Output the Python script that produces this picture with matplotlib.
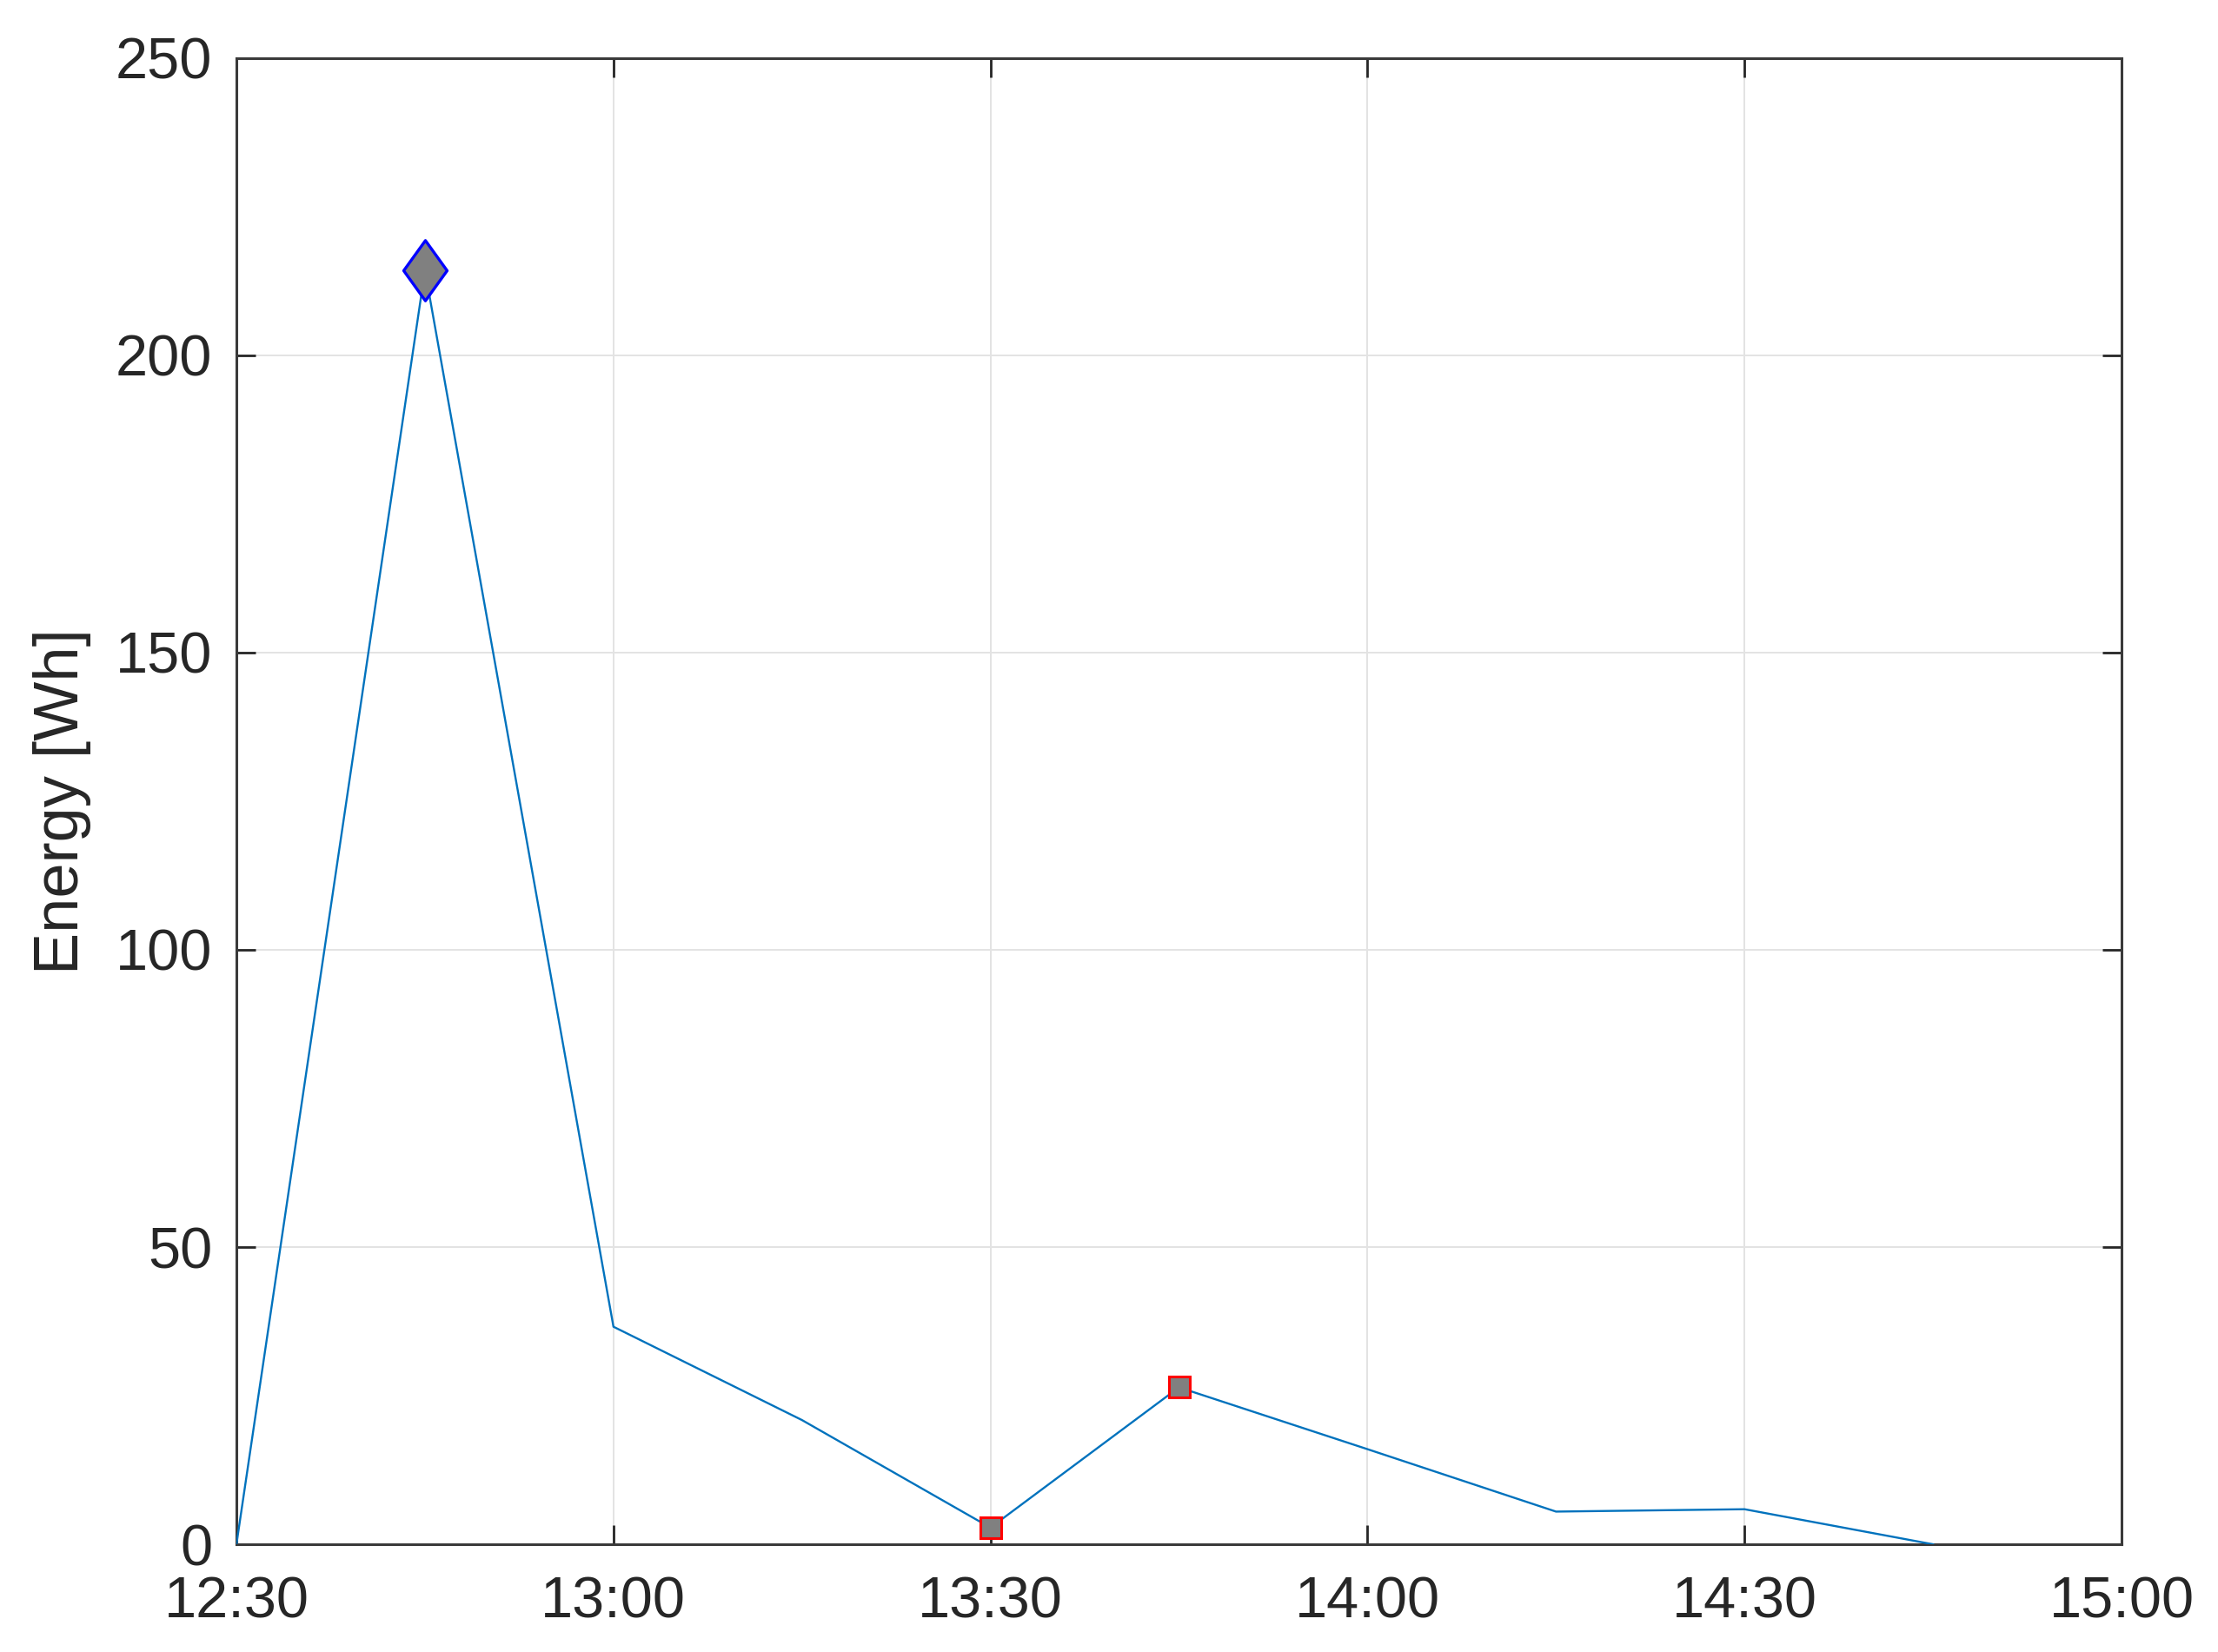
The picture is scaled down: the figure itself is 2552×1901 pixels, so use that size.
import numpy as np
import matplotlib
matplotlib.use("Agg")
import matplotlib.pyplot as plt
import matplotlib.dates as mdates
import pandas as pd
from matplotlib.path import Path

# readings every 15 min
times = ["12:30", "12:45", "13:00", "13:15", "13:30", "13:45", "14:00", "14:15", "14:30", "14:45"]
energy = [0, 214.3, 36.6, 20.9, 2.8, 26.4, 16.0, 5.5, 5.9, 0]
peak_idx = [1]          # diamond marker
low_idx = [4, 5]        # square markers

t = pd.to_datetime(["2020-01-01 " + s for s in times])
e = np.array(energy)

plt.rcParams["font.family"] = ["Liberation Sans", "DejaVu Sans"]

fig = plt.figure(figsize=(12.76, 9.505), dpi=200)
ax = fig.add_axes([0.1066, 0.0652, 0.8499, 0.8996])

ax.plot(t, e, color="#0072BD", lw=0.85, zorder=3)

# matlab style tall diamond
diamond = Path([(0, 1), (0.72, 0), (0, -1), (-0.72, 0), (0, 1)], closed=True)
ax.plot(t[peak_idx], e[peak_idx], ls="none", marker=diamond, markersize=25,
        markerfacecolor="#808080", markeredgecolor="#0000FF", markeredgewidth=1.2, zorder=4)
ax.plot(t[low_idx], e[low_idx], ls="none", marker="s", markersize=8.5,
        markerfacecolor="#808080", markeredgecolor="#FF0000", markeredgewidth=1.1, zorder=4)

ax.set_xlim(pd.Timestamp("2020-01-01 12:30"), pd.Timestamp("2020-01-01 15:00"))
ax.set_ylim(0, 250)
ax.set_yticks([0, 50, 100, 150, 200, 250])
ax.xaxis.set_major_locator(mdates.MinuteLocator(byminute=[0, 30]))
ax.xaxis.set_major_formatter(mdates.DateFormatter("%H:%M"))

ax.grid(True, color="#e3e3e3", lw=0.7, zorder=0)
ax.set_axisbelow(True)
for sp in ax.spines.values():
    sp.set_color("#3a3a3a")
    sp.set_linewidth(1.1)

ax.tick_params(direction="in", length=8, width=1.0, color="#262626",
               top=True, right=True, labelsize=24, labelcolor="#262626")
ax.tick_params(axis="x", pad=13)
ax.tick_params(axis="y", pad=10)
ax.set_ylabel("Energy [Wh]", fontsize=26, color="#262626", labelpad=10)

fig.savefig("out.png", dpi=200)
